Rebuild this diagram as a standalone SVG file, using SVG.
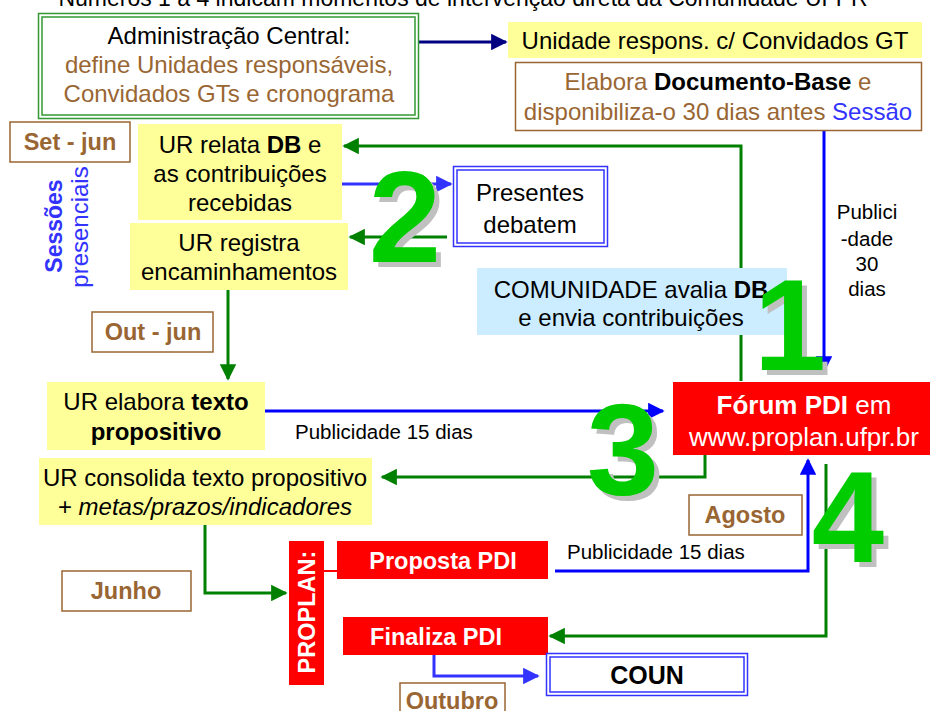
<svg xmlns="http://www.w3.org/2000/svg" width="930" height="711" viewBox="0 0 930 711">
<defs>
<style>
text{font-family:"Liberation Sans",Arial,sans-serif;}
.t{font-size:24px;fill:#000;text-anchor:middle;}
.br{fill:#996633;}
.b{font-weight:bold;}
.yel{fill:#FFFF99;}
.lbl{fill:#fff;stroke:#996633;stroke-width:1.5;}
.lt{font-size:23.5px;font-weight:bold;fill:#996633;text-anchor:middle;}
.red{fill:#FF0000;}
.wt{font-size:23.5px;font-weight:bold;fill:#fff;text-anchor:middle;}
.g{stroke:#008000;stroke-width:3;fill:none;}
.bl{stroke:#0000FF;stroke-width:3;fill:none;}
.bl2{stroke:#3333FF;stroke-width:3;fill:none;}
.nv{stroke:#000080;stroke-width:3;fill:none;}
.num{font-size:130px;font-weight:900;text-anchor:middle;}
.sh{fill:#C0C0C0;}
.ng{fill:#00CC00;}
.pub{font-size:20.5px;fill:#000;}
</style>
<marker id="ag" viewBox="0 0 10 10" refX="9" refY="5" markerWidth="5.5" markerHeight="5.5" orient="auto" markerUnits="strokeWidth"><path d="M0,0L10,5L0,10z" fill="#008000"/></marker>
<marker id="ab" viewBox="0 0 10 10" refX="9" refY="5" markerWidth="5.5" markerHeight="5.5" orient="auto" markerUnits="strokeWidth"><path d="M0,0L10,5L0,10z" fill="#0000FF"/></marker>
<marker id="ab2" viewBox="0 0 10 10" refX="9" refY="5" markerWidth="5.5" markerHeight="5.5" orient="auto" markerUnits="strokeWidth"><path d="M0,0L10,5L0,10z" fill="#3333FF"/></marker>
<marker id="an" viewBox="0 0 10 10" refX="9" refY="5" markerWidth="5.5" markerHeight="5.5" orient="auto" markerUnits="strokeWidth"><path d="M0,0L10,5L0,10z" fill="#000080"/></marker>
</defs>
<rect width="930" height="711" fill="#fff"/>
<text x="463" y="6" font-size="23" text-anchor="middle" fill="#000">Números 1 a 4 indicam momentos de intervenção direta da Comunidade UFPR</text>

<g id="connectors">
<path class="nv" d="M418,42H506" marker-end="url(#an)"/>
<path class="bl" d="M824,130V371" marker-end="url(#ab)"/>
<path class="g" d="M741,381V146H344" marker-end="url(#ag)"/>
<path class="bl2" d="M342,184H451" marker-end="url(#ab2)"/>
<path class="g" d="M447,237H350" marker-end="url(#ag)"/>
<path class="g" d="M228,290V379" marker-end="url(#ag)"/>
<path class="bl" d="M265,411H663" marker-end="url(#ab)"/>
<path class="g" d="M705,455V477H382" marker-end="url(#ag)"/>
<path class="g" d="M205,525V593H286" marker-end="url(#ag)"/>
<path d="M324,571H337" stroke="#FF0000" stroke-width="2"/>
<path class="bl" d="M555,571H808V460" marker-end="url(#ab)"/>
<path class="g" d="M826,464V636H550" marker-end="url(#ag)"/>
<path class="bl2" d="M434,655V676H538" marker-end="url(#ab2)"/>
</g>

<g id="admin">
<rect x="38.5" y="13.5" width="380" height="105" fill="#fff" stroke="#339933" stroke-width="1.5"/>
<rect x="42" y="17" width="373" height="98" fill="none" stroke="#339933" stroke-width="1.5"/>
<text class="t" x="229" y="44">Administração Central:</text>
<text class="t br" x="229" y="73">define Unidades responsáveis,</text>
<text class="t br" x="229" y="102">Convidados GTs e cronograma</text>
</g>

<g id="unidade">
<rect class="yel" x="508" y="22" width="414" height="36"/>
<text class="t" x="715" y="49">Unidade respons. c/ Convidados GT</text>
</g>

<g id="elabora">
<rect x="515.5" y="62.5" width="406" height="68" fill="#fff" stroke="#996633" stroke-width="1.5"/>
<text class="t br" x="718" y="90">Elabora <tspan class="b" fill="#000">Documento-Base</tspan> e</text>
<text class="t br" x="718" y="120">disponibiliza-o 30 dias antes <tspan fill="#3333FF">Sessão</tspan></text>
</g>

<g id="publici30">
<text class="pub" x="867" y="219" text-anchor="middle">Publici</text>
<text class="pub" x="867" y="246" text-anchor="middle">-dade</text>
<text class="pub" x="867" y="271" text-anchor="middle">30</text>
<text class="pub" x="867" y="296" text-anchor="middle">dias</text>
</g>

<g id="setjun">
<rect class="lbl" x="10" y="122" width="120" height="40"/>
<text class="lt" x="70" y="150">Set - jun</text>
</g>

<g id="sessoes">
<text x="62" y="226" font-size="23" font-weight="bold" fill="#3333FF" text-anchor="middle" transform="rotate(-90 62 226)">Sessões</text>
<text x="88" y="227" font-size="24" fill="#3333FF" text-anchor="middle" transform="rotate(-90 88 227)">presenciais</text>
</g>

<g id="urrelata">
<rect class="yel" x="138" y="124" width="204" height="96"/>
<text class="t" x="240" y="153">UR relata <tspan class="b">DB</tspan> e</text>
<text class="t" x="240" y="182">as contribuições</text>
<text class="t" x="240" y="211">recebidas</text>
</g>

<g id="urregistra">
<rect class="yel" x="130" y="223" width="218" height="67"/>
<text class="t" x="239" y="251">UR registra</text>
<text class="t" x="239" y="280">encaminhamentos</text>
</g>

<g id="presentes">
<rect x="453.5" y="166.5" width="154" height="80" fill="#fff" stroke="#3333FF" stroke-width="1.5"/>
<rect x="457" y="170" width="147" height="73" fill="none" stroke="#3333FF" stroke-width="1.5"/>
<text class="t" x="530" y="201" font-size="27">Presentes</text>
<text class="t" x="530" y="233" font-size="27">debatem</text>
</g>

<g id="num2">
<text class="num sh" x="410" y="267">2</text>
<text class="num ng" x="405" y="262">2</text>
</g>

<g id="comunidade">
<rect x="477" y="268" width="310" height="67" fill="#CCECFF"/>
<text class="t" x="631" y="298">COMUNIDADE avalia <tspan class="b">DB</tspan></text>
<text class="t" x="631" y="326">e envia contribuições</text>
</g>

<g id="num1">
<text class="num sh" x="795" y="375">1</text>
<text class="num ng" x="790" y="370">1</text>
</g>

<g id="forum">
<rect class="red" x="673" y="382" width="257" height="73"/>
<text x="804" y="414" font-size="26" fill="#fff" text-anchor="middle"><tspan font-weight="bold">Fórum PDI</tspan> em</text>
<text x="804" y="446" font-size="26" fill="#fff" text-anchor="middle">www.proplan.ufpr.br</text>
</g>

<g id="outjun">
<rect class="lbl" x="92" y="312" width="121" height="40"/>
<text class="lt" x="153" y="340">Out - jun</text>
</g>

<g id="urelabora">
<rect class="yel" x="47" y="382" width="218" height="68"/>
<text class="t" x="156" y="410">UR elabora <tspan class="b">texto</tspan></text>
<text class="t b" x="156" y="440">propositivo</text>
</g>

<text class="pub" x="295" y="439">Publicidade 15 dias</text>

<g id="num3">
<text class="num sh" x="628" y="500">3</text>
<text class="num ng" x="623" y="495">3</text>
</g>

<g id="urconsolida">
<rect class="yel" x="39" y="458" width="333" height="67"/>
<text class="t" x="205" y="486">UR consolida texto propositivo</text>
<text class="t" x="205" y="515">+ <tspan font-style="italic">metas/prazos/indicadores</tspan></text>
</g>

<g id="junho">
<rect class="lbl" x="62" y="571" width="129" height="40"/>
<text class="lt" x="126" y="599">Junho</text>
</g>

<g id="proplan">
<rect class="red" x="289" y="541" width="35" height="144"/>
<text class="wt" x="315" y="612" transform="rotate(-90 315 612)">PROPLAN:</text>
</g>

<g id="proposta">
<rect class="red" x="337" y="541" width="211" height="38"/>
<text class="wt" x="443" y="569">Proposta PDI</text>
</g>

<text class="pub" x="567" y="559">Publicidade 15 dias</text>

<g id="agosto">
<rect class="lbl" x="689" y="495" width="113" height="40"/>
<text class="lt" x="745" y="523">Agosto</text>
</g>

<g id="num4">
<text class="num sh" x="853" y="567">4</text>
<text class="num ng" x="848" y="562">4</text>
</g>

<g id="finaliza">
<rect class="red" x="343" y="617" width="205" height="38"/>
<text class="wt" x="436" y="645">Finaliza PDI</text>
</g>

<g id="coun">
<rect x="546.5" y="653.5" width="201" height="42" fill="#fff" stroke="#3333FF" stroke-width="1.5"/>
<rect x="550" y="657" width="194" height="35" fill="none" stroke="#3333FF" stroke-width="1.5"/>
<text x="647" y="684" font-size="25" font-weight="bold" fill="#000" text-anchor="middle">COUN</text>
</g>

<g id="outubro">
<rect class="lbl" x="400" y="683" width="105" height="40"/>
<text class="lt" x="452" y="709">Outubro</text>
</g>
</svg>
